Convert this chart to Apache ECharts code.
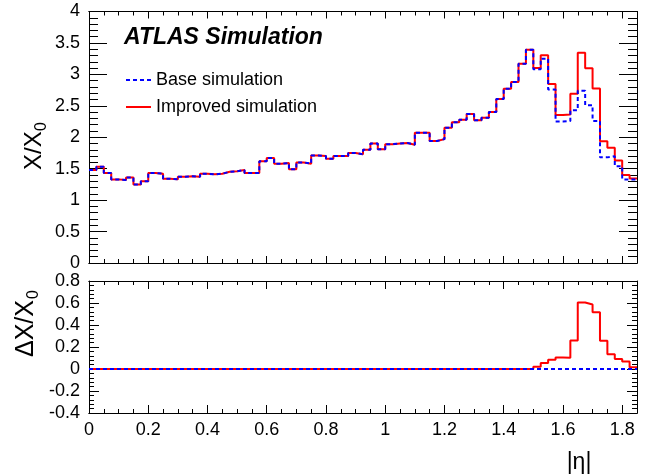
<!DOCTYPE html>
<html>
<head>
<meta charset="utf-8">
<script src="https://cdn.jsdelivr.net/npm/echarts@6/dist/echarts.min.js"></script>
<style>
  html, body { margin: 0; padding: 0; background: #fff; }
  #chart { width: 645px; height: 475px; }
</style>
</head>
<body>
<div id="chart"></div>
<script>
// Radiation length X/X0 versus |eta|, 0.025-wide bins from 0 to 1.85
const binWidth = 0.025;

const baseSim = [
  1.48, 1.53, 1.43, 1.33, 1.32, 1.36, 1.25, 1.30, 1.43, 1.42,
  1.34, 1.33, 1.37, 1.38, 1.37, 1.42, 1.41, 1.42, 1.45, 1.46,
  1.48, 1.43, 1.43, 1.62, 1.67, 1.58, 1.59, 1.49, 1.60, 1.58,
  1.71, 1.70, 1.66, 1.70, 1.70, 1.75, 1.73, 1.80, 1.90, 1.81,
  1.89, 1.90, 1.91, 1.88, 2.07, 2.07, 1.94, 1.97, 2.15, 2.24,
  2.28, 2.37, 2.27, 2.31, 2.40, 2.61, 2.77, 2.88, 3.17, 3.39,
  3.08, 3.25, 2.76, 2.25, 2.26, 2.43, 2.74, 2.51, 2.26, 1.68,
  1.70, 1.54, 1.33, 1.33
];

// extra material in the improved geometry (improved - base)
const deltaSim = [
  0, 0, 0, 0, 0, 0, 0, 0, 0, 0,
  0, 0, 0, 0, 0, 0, 0, 0, 0, 0,
  0, 0, 0, 0, 0, 0, 0, 0, 0, 0,
  0, 0, 0, 0, 0, 0, 0, 0, 0, 0,
  0, 0, 0, 0, 0, 0, 0, 0, 0, 0,
  0, 0, 0, 0, 0, 0, 0, 0, 0, 0,
  0.020, 0.054, 0.085, 0.105, 0.103, 0.260, 0.605, 0.587, 0.517, 0.257,
  0.133, 0.090, 0.069, 0.015
];

const improvedSim = baseSim.map((v, i) => +(v + deltaSim[i]).toFixed(3));
const baseDiff = baseSim.map(v => v - v);

const etaMax = 1.85;

// histogram outline: one point per lower bin edge, plus the closing edge
function histPoints(vals) {
  const pts = vals.map((v, i) => [+(i * binWidth).toFixed(4), v]);
  pts.push([+(vals.length * binWidth).toFixed(4), vals[vals.length - 1]]);
  return pts;
}

const FONT = 'Liberation Sans, Arial, Helvetica, sans-serif';
const black = '#000';

function xAxis(grid, position, interval, tickLen, withLabels) {
  return {
    type: 'value', gridIndex: grid, position: position,
    min: 0, max: etaMax, interval: interval,
    axisLine: { show: true, onZero: false, lineStyle: { color: black, width: 1 } },
    axisTick: { show: true, inside: true, length: tickLen, lineStyle: { color: black, width: 1 } },
    axisLabel: withLabels ? {
      show: true, color: black, fontSize: 18, fontFamily: FONT, margin: 8,
      showMaxLabel: false
    } : { show: false },
    splitLine: { show: false }
  };
}

function yAxis(grid, position, min, max, interval, minorSplit, tickLen, minorLen, withLabels) {
  return {
    type: 'value', gridIndex: grid, position: position,
    min: min, max: max, interval: interval,
    axisLine: { show: true, onZero: false, lineStyle: { color: black, width: 1 } },
    axisTick: { show: true, inside: true, length: tickLen, lineStyle: { color: black, width: 1 } },
    minorTick: { show: true, splitNumber: minorSplit, length: minorLen, lineStyle: { color: black, width: 1 } },
    axisLabel: withLabels ? { show: true, color: black, fontSize: 18, fontFamily: FONT, margin: 9 } : { show: false },
    splitLine: { show: false }, minorSplitLine: { show: false }
  };
}

const chart = echarts.init(document.getElementById('chart'), null, { renderer: 'canvas' });

const option = {
  animation: false,
  backgroundColor: '#fff',
  grid: [
    { left: 89, right: 8, top: 11.5, height: 251.5, containLabel: false },
    { left: 89, right: 8, top: 281, height: 132, containLabel: false }
  ],
  xAxis: [
    xAxis(0, 'bottom', 0.2, 7, false),   // 0
    xAxis(0, 'bottom', 0.05, 4, false),  // 1
    xAxis(0, 'top', 0.2, 7, false),      // 2
    xAxis(0, 'top', 0.05, 4, false),     // 3
    xAxis(1, 'bottom', 0.2, 8, true),    // 4
    xAxis(1, 'bottom', 0.05, 4, false),  // 5
    xAxis(1, 'top', 0.2, 8, false),      // 6
    xAxis(1, 'top', 0.05, 4, false)      // 7
  ],
  yAxis: [
    yAxis(0, 'left', 0, 4, 0.5, 5, 18, 9, true),
    yAxis(0, 'right', 0, 4, 0.5, 5, 18, 9, false),
    yAxis(1, 'left', -0.4, 0.8, 0.2, 5, 10, 5, true),
    yAxis(1, 'right', -0.4, 0.8, 0.2, 5, 10, 5, false)
  ],
  legend: {
    show: true, orient: 'vertical', left: 120, top: 66,
    itemWidth: 25, itemHeight: 14, itemGap: 9,
    data: ['Base simulation', 'Improved simulation'],
    itemStyle: { opacity: 0 },
    textStyle: { fontSize: 18, color: black, fontFamily: FONT },
    selectedMode: false
  },
  series: [
    {
      name: 'Improved simulation', type: 'line', step: 'end',
      xAxisIndex: 0, yAxisIndex: 0, symbol: 'none',
      lineStyle: { color: '#ff0000', width: 2 }, itemStyle: { color: '#ff0000' },
      data: histPoints(improvedSim), z: 2
    },
    {
      name: 'Base simulation', type: 'line', step: 'end',
      xAxisIndex: 0, yAxisIndex: 0, symbol: 'none',
      lineStyle: { color: '#0000ff', width: 2, type: [4, 3] }, itemStyle: { color: '#0000ff' },
      data: histPoints(baseSim), z: 3
    },
    {
      name: 'Improved simulation', type: 'line', step: 'end',
      xAxisIndex: 4, yAxisIndex: 2, symbol: 'none',
      lineStyle: { color: '#ff0000', width: 2 }, itemStyle: { color: '#ff0000' },
      data: histPoints(deltaSim), z: 2
    },
    {
      name: 'Base simulation', type: 'line', step: 'end',
      xAxisIndex: 4, yAxisIndex: 2, symbol: 'none',
      lineStyle: { color: '#0000ff', width: 2, type: [4, 3] }, itemStyle: { color: '#0000ff' },
      data: histPoints(baseDiff), z: 3
    }
  ],
  graphic: [
    {
      type: 'text', left: 124, top: 26,
      style: { text: 'ATLAS Simulation', font: 'italic bold 23px ' + FONT, fill: black }
    },
    {
      type: 'group', x: 34, y: 146, rotation: Math.PI / 2,
      children: [
        { type: 'text', x: -24, y: 0, style: { text: 'X/X', font: '24px ' + FONT, fill: black, textAlign: 'left', textVerticalAlign: 'middle' } },
        { type: 'text', x: 15, y: 8, style: { text: '0', font: '16px ' + FONT, fill: black, textAlign: 'left', textVerticalAlign: 'middle' } }
      ]
    },
    {
      type: 'group', x: 26, y: 320, rotation: Math.PI / 2,
      children: [
        { type: 'text', x: -37, y: 0, style: { text: '\u0394X/X', font: '25px ' + FONT, fill: black, textAlign: 'left', textVerticalAlign: 'middle' } },
        { type: 'text', x: 21, y: 8, style: { text: '0', font: '16px ' + FONT, fill: black, textAlign: 'left', textVerticalAlign: 'middle' } }
      ]
    },
    {
      type: 'text', x: 579, y: 463,
      style: { text: '|\u03b7|', font: '23px ' + FONT, fill: black, textAlign: 'center', textVerticalAlign: 'middle' }
    }
  ]
};

chart.setOption(option);
</script>
</body>
</html>
